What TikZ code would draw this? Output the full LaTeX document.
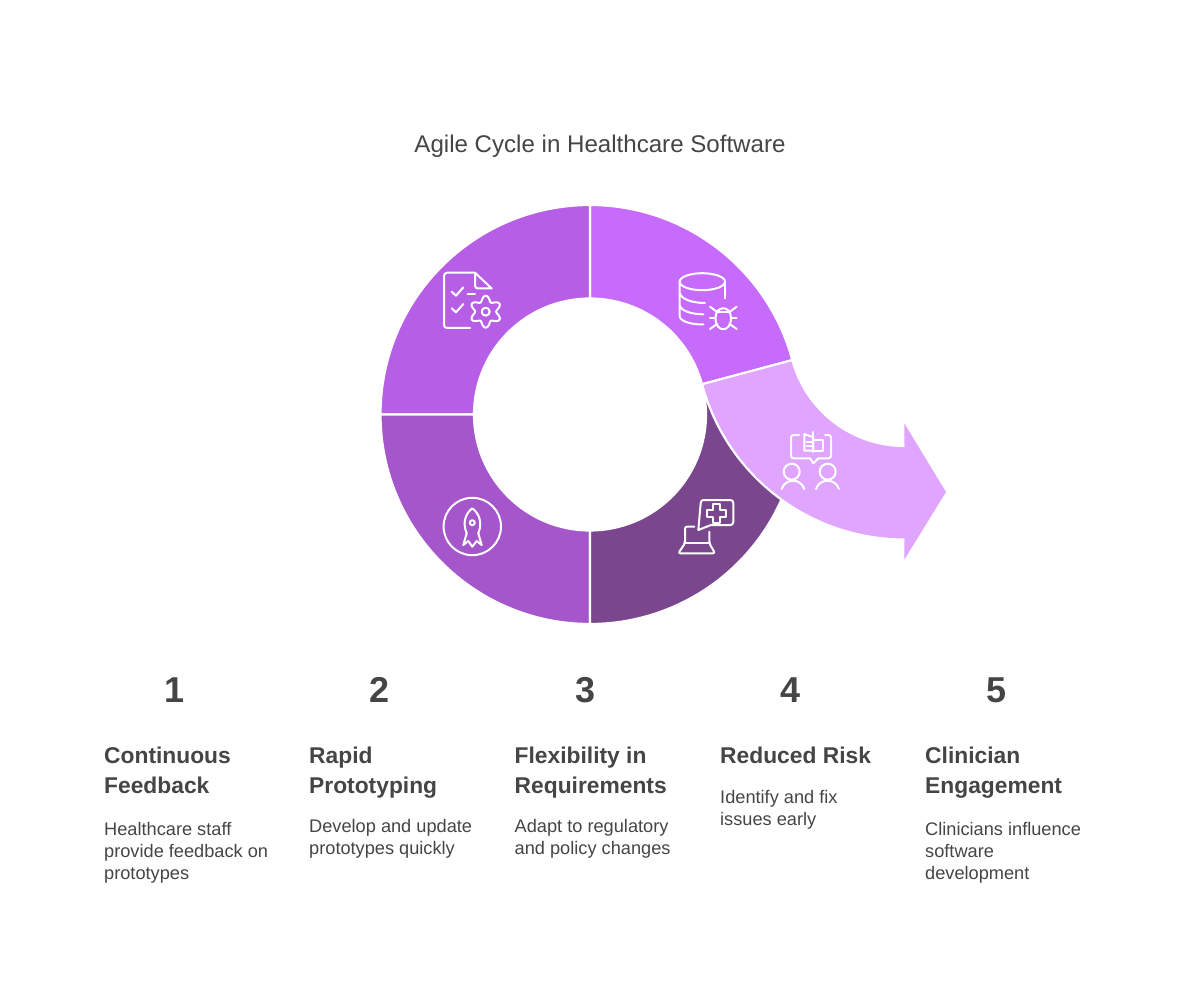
\documentclass[tikz,border=0pt]{standalone}
\usepackage{fontspec}
\setmainfont{Liberation Sans}
\usetikzlibrary{calc}
\definecolor{inkText}{HTML}{454545}
\definecolor{segFeedback}{HTML}{C76BFC}
\definecolor{segProto}{HTML}{B65FE6}
\definecolor{segFlex}{HTML}{A556CB}
\definecolor{segRisk}{HTML}{7A478F}
\definecolor{segArrow}{HTML}{E0A5FF}
\tikzset{
    segment/.style={draw=white, line width=2.2pt, line join=miter},
    icon/.style={draw=white, line width=2pt, line cap=round, line join=round},
    titleText/.style={font=\fontsize{24.1}{28}\selectfont, text=inkText, inner sep=0pt},
    numText/.style={font=\fontsize{36}{40}\selectfont\bfseries, text=inkText, inner sep=0pt},
    headText/.style={font=\fontsize{22.8}{30}\selectfont\bfseries, text=inkText, inner sep=0pt, anchor=north west, align=left},
    descText/.style={font=\fontsize{18.2}{22}\selectfont, text=inkText, inner sep=0pt, anchor=north west, align=left},
}
% ring piece between two angles
\newcommand{\drawRing}[3]{
    \path[segment, fill=#1] ([shift={(#2:209.5)}]hub) arc[start angle=#2, end angle=#3, radius=209.5]
        -- ([shift={(#3:116)}]hub) arc[start angle=#3, end angle=#2, radius=116] -- cycle;
}
% number, heading and description of one column
\newcommand{\drawStep}[7]{
    \node[numText] (num#1) at (#3,690) {#4};
    \node[headText] (head#1) at (#2,746.5) {#5};
    \node[descText] (desc#1) at (#2,#6) {#7};
}

\begin{document}
\begin{tikzpicture}[x=1pt, y=1pt, yscale=-1]
    \useasboundingbox (0,0) rectangle (1200,1000);
    \coordinate (hub) at (590,414.5);
    \coordinate (bend) at (904.4,330);

    \node[titleText] (title) at (600,146) {Agile Cycle in Healthcare Software};

    % ring
    \drawRing{segFeedback}{-90}{-15}
    \drawRing{segProto}{180}{270}
    \drawRing{segFlex}{90}{180}
    \drawRing{segRisk}{90}{-15}

    % arrow
    \fill[segArrow] ([shift={(165:209.5)}]bend) arc[start angle=165, end angle=90, radius=209.5]
        -- (904.4,559.5) -- (946,492) -- (904.4,423.5) -- ([shift={(90:116)}]bend)
        arc[start angle=90, end angle=165, radius=116] -- cycle;
    \path[segment] ([shift={(90:116)}]bend) arc[start angle=90, end angle=165, radius=116]
        -- ([shift={(165:209.5)}]bend) arc[start angle=165, end angle=90, radius=209.5];

    % checklist icon
    \draw[icon] (470,328) -- (447,328) to[out=180, in=90] (444,325) -- (444,276) to[out=-90, in=180] (447,272.7) -- (475,272.7) -- (491.7,288.5) -- (478,288.5) to[out=180, in=90] (475,285.5) -- (475,272.7);
    \draw[icon] (451.7,291.7) -- (456,295.7) -- (463.3,287.3);
    \draw[icon] (467.7,293.7) -- (475,293.7);
    \draw[icon] (451.7,308.3) -- (456,312.3) -- (463.3,304);
    \draw[icon] plot[domain=0:360, samples=61, smooth cycle] ({485.7+(13.2+2.8*cos(6*\x))*cos(\x-90)}, {311.7+(13.2+2.8*cos(6*\x))*sin(\x-90)});
    \draw[icon] (485.7,311.7) circle[radius=4];

    % database icon
    \draw[icon] (702.3,281.7) ellipse[x radius=22.7, y radius=8.5];
    \draw[icon] (679.7,281.7) -- (679.7,316) .. controls (679.7,321) and (690,324.5) .. (703.3,324.5);
    \draw[icon] (725,281.7) -- (725,298.3);
    \draw[icon] (679.7,293) .. controls (681,299) and (692,303) .. (705,303);
    \draw[icon] (679.7,305.5) .. controls (681,311) and (692,314.3) .. (703.3,314.3);
    \draw[icon] (715.5,318) .. controls (715.5,305) and (731,305) .. (731,318) .. controls (731,333) and (715.5,333) .. (715.5,318);
    \draw[icon] (717,311.7) -- (729.5,311.7);
    \draw[icon] (710,306.7) -- (716.7,311.7);
    \draw[icon] (736.7,306.7) -- (730,311.7);
    \draw[icon] (710,318.3) -- (715,318.3);
    \draw[icon] (736.7,318.3) -- (731,318.3);
    \draw[icon] (710,329) -- (716.7,324.3);
    \draw[icon] (736.7,329) -- (730,324.3);

    % clinic laptop icon
    \draw[icon] (703.5,500) -- (730.5,500) to[out=0, in=-90] (733.3,503) -- (733.3,522) to[out=90, in=0] (730.5,525) -- (711,525) -- (698.3,530) -- (700.7,503) to[out=-90, in=180] (703.5,500);
    \draw[icon] (713.2,504) -- (720.2,504) -- (720.2,509.8) -- (726,509.8) -- (726,516.8) -- (720.2,516.8) -- (720.2,522.6) -- (713.2,522.6) -- (713.2,516.8) -- (707.4,516.8) -- (707.4,509.8) -- (713.2,509.8) -- cycle;
    \draw[icon, rounded corners=2pt] (694.3,526.7) -- (685,526.7) -- (685,543.3) -- (678.3,553.3) -- (715,553.3) -- (709.3,543.3) -- (709.3,531.7);
    \draw[icon] (685,543.3) -- (709.3,543.3);

    % rocket icon
    \draw[icon] (472.3,526.5) circle[radius=28.7];
    \draw[icon] (466.7,533.3) .. controls (462,522) and (466,513) .. (472.3,508.3) .. controls (478.6,513) and (483,522) .. (478.3,533.3);
    \draw[icon] (466.7,533.3) -- (463.3,545) -- (468.3,541) -- (472.3,546.7) -- (476.7,541) -- (481.7,545) -- (478.3,533.3);
    \draw[icon] (472.3,522.7) circle[radius=2.5];

    % people icon
    \draw[icon] (799,435) -- (793.5,435) to[out=180, in=-90] (791,437.5) -- (791,455.8) to[out=90, in=180] (793.5,458.3) -- (810,458.3) -- (813.3,463.3) -- (818.3,458.3) -- (828.5,458.3) to[out=0, in=90] (831,455.8) -- (831,437.5) to[out=-90, in=0] (828.5,435) -- (825,435);
    \draw[icon] (804.3,434) -- (813.3,437.3) -- (813.3,450.7) -- (804.3,450.7) -- cycle;
    \draw[icon] (813.3,432) -- (813.3,452);
    \draw[icon] (814.5,440) -- (823.3,440) -- (823.3,450.7) -- (813.3,450.7);
    \draw[icon] (806.7,441.7) -- (811.7,441.7);
    \draw[icon] (806.7,446) -- (811.7,446);
    \draw[icon] (791.7,471.7) circle[radius=8];
    \draw[icon] (827.7,471.7) circle[radius=8];
    \draw[icon] (781.7,489) .. controls (785,478) and (801,478) .. (804.3,489);
    \draw[icon] (816,489) .. controls (819.5,478) and (835.5,478) .. (839,489);

    % columns
    \drawStep{A}{104}{174.7}{1}{Continuous\\Feedback}{822}{Healthcare staff\\provide feedback on\\prototypes}
    \drawStep{B}{309}{379.7}{2}{Rapid\\Prototyping}{819}{Develop and update\\prototypes quickly}
    \drawStep{C}{514.5}{585.5}{3}{Flexibility in\\Requirements}{819}{Adapt to regulatory\\and policy changes}
    \drawStep{D}{720}{791}{4}{Reduced Risk}{790}{Identify and fix\\issues early}
    \drawStep{E}{925}{996.7}{5}{Clinician\\Engagement}{822}{Clinicians influence\\software\\development}
\end{tikzpicture}
\end{document}
